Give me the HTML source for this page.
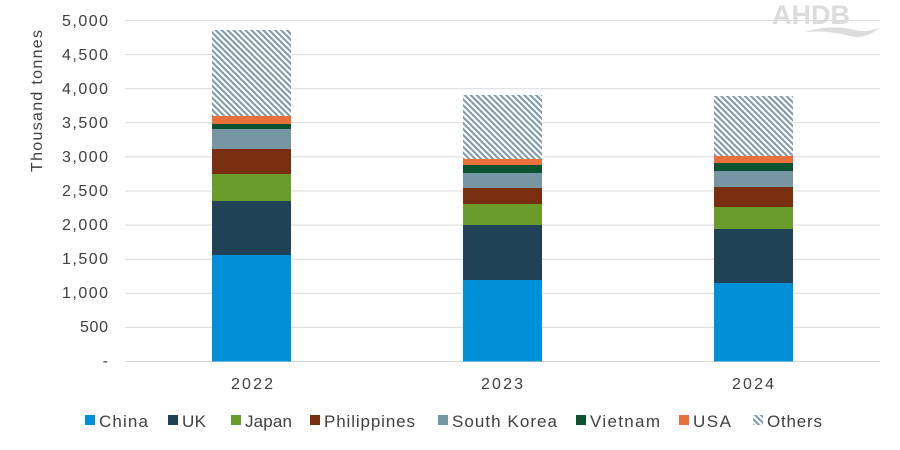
<!DOCTYPE html>
<html><head><meta charset="utf-8"><style>
body{margin:0;background:#fff}
svg{display:block;font-family:"Liberation Sans",Arial,sans-serif}
</style></head><body>
<svg width="900" height="450" viewBox="0 0 900 450">
<defs>
<pattern id="hatch" width="4.2" height="4.2" patternUnits="userSpaceOnUse" patternTransform="rotate(-45)">
<rect width="4.2" height="4.2" fill="#fff"/>
<rect width="2.1" height="4.2" fill="#7f9aa8"/>
</pattern>
</defs>
<g stroke="#d9d9d9" stroke-width="1">
<line x1="125" x2="880" y1="20.5" y2="20.5"/>
<line x1="125" x2="880" y1="54.6" y2="54.6"/>
<line x1="125" x2="880" y1="88.7" y2="88.7"/>
<line x1="125" x2="880" y1="122.8" y2="122.8"/>
<line x1="125" x2="880" y1="156.9" y2="156.9"/>
<line x1="125" x2="880" y1="191" y2="191"/>
<line x1="125" x2="880" y1="225.1" y2="225.1"/>
<line x1="125" x2="880" y1="259.2" y2="259.2"/>
<line x1="125" x2="880" y1="293.3" y2="293.3"/>
<line x1="125" x2="880" y1="327.4" y2="327.4"/>
<line x1="125" x2="880" y1="361.5" y2="361.5"/>
</g>
<g font-size="16" fill="#404040" text-anchor="end">
<text x="108" y="26" textLength="46">5,000</text>
<text x="108" y="60" textLength="46">4,500</text>
<text x="108" y="94" textLength="46">4,000</text>
<text x="108" y="128" textLength="46">3,500</text>
<text x="108" y="162" textLength="46">3,000</text>
<text x="108" y="196" textLength="46">2,500</text>
<text x="108" y="230" textLength="46">2,000</text>
<text x="108" y="264" textLength="46">1,500</text>
<text x="108" y="298" textLength="46">1,000</text>
<text x="108" y="332" textLength="28">500</text>
<text x="108" y="366">-</text>
</g>
<text transform="translate(42,101) rotate(-90)" font-size="16" fill="#404040" text-anchor="middle" textLength="142">Thousand tonnes</text>
<g>
<rect x="212" y="30" width="79" height="86" fill="url(#hatch)"/>
<rect x="212" y="116" width="79" height="8" fill="#e8703a"/>
<rect x="212" y="124" width="79" height="5" fill="#0b5230"/>
<rect x="212" y="129" width="79" height="20" fill="#7696a4"/>
<rect x="212" y="149" width="79" height="25" fill="#7a2e10"/>
<rect x="212" y="174" width="79" height="27" fill="#6a9c2c"/>
<rect x="212" y="201" width="79" height="54" fill="#1f4257"/>
<rect x="212" y="255" width="79" height="106.5" fill="#0090d8"/>

<rect x="463" y="95" width="79" height="64" fill="url(#hatch)"/>
<rect x="463" y="159" width="79" height="6" fill="#e8703a"/>
<rect x="463" y="165" width="79" height="8" fill="#0b5230"/>
<rect x="463" y="173" width="79" height="15" fill="#7696a4"/>
<rect x="463" y="188" width="79" height="16" fill="#7a2e10"/>
<rect x="463" y="204" width="79" height="21" fill="#6a9c2c"/>
<rect x="463" y="225" width="79" height="55" fill="#1f4257"/>
<rect x="463" y="280" width="79" height="81.5" fill="#0090d8"/>

<rect x="714" y="96" width="79" height="60" fill="url(#hatch)"/>
<rect x="714" y="156" width="79" height="7" fill="#e8703a"/>
<rect x="714" y="163" width="79" height="8" fill="#0b5230"/>
<rect x="714" y="171" width="79" height="16" fill="#7696a4"/>
<rect x="714" y="187" width="79" height="20" fill="#7a2e10"/>
<rect x="714" y="207" width="79" height="22" fill="#6a9c2c"/>
<rect x="714" y="229" width="79" height="54" fill="#1f4257"/>
<rect x="714" y="283" width="79" height="78.5" fill="#0090d8"/>
</g>
<g font-size="16" fill="#404040">
<text x="231" y="389" textLength="42">2022</text>
<text x="481" y="389" textLength="42">2023</text>
<text x="732" y="389" textLength="42">2024</text>
</g>
<g font-size="17" fill="#404040">
<rect x="85" y="415" width="10" height="10" fill="#0090d8"/><text x="99" y="427" textLength="49">China</text>
<rect x="168" y="415" width="10" height="10" fill="#1f4257"/><text x="182" y="427" textLength="24">UK</text>
<rect x="231" y="415" width="10" height="10" fill="#6a9c2c"/><text x="245" y="427" textLength="47">Japan</text>
<rect x="310" y="415" width="10" height="10" fill="#7a2e10"/><text x="324" y="427" textLength="91">Philippines</text>
<rect x="438" y="415" width="10" height="10" fill="#7696a4"/><text x="452" y="427" textLength="105">South Korea</text>
<rect x="576" y="415" width="10" height="10" fill="#0b5230"/><text x="590" y="427" textLength="70">Vietnam</text>
<rect x="679" y="415" width="10" height="10" fill="#e8703a"/><text x="693" y="427" textLength="38">USA</text>
<rect x="753" y="415" width="10" height="10" fill="url(#hatch)"/><text x="767" y="427" textLength="55">Others</text>
</g>
<text x="772" y="24" font-size="27" font-weight="bold" fill="#dcdcdc">AHDB</text>
<path d="M805 32 Q830 24 855 30 Q868 33 880 27 Q866 40 850 36 Q828 30 805 32Z" fill="#dcdcdc"/>
</svg>
</body></html>
